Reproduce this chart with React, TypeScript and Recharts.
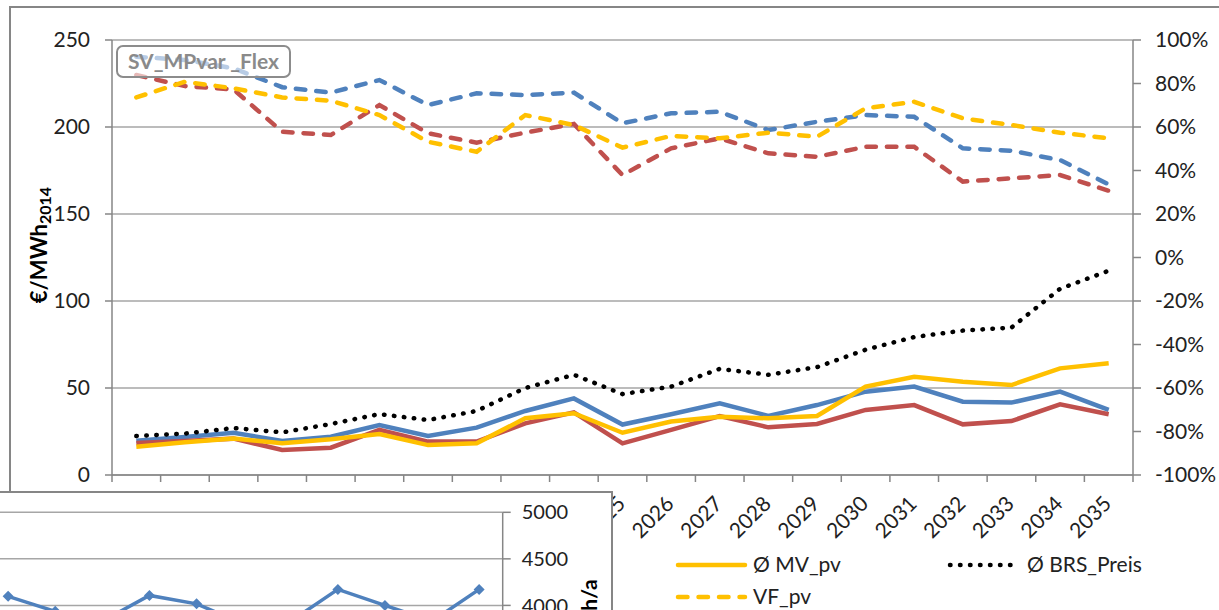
import React from 'react';
import { LineChart, Line, XAxis, YAxis, CartesianGrid } from 'recharts';

// categories
const years = [
  '2015', '2016', '2017', '2018', '2019', '2020', '2021', '2022', '2023', '2024', '2025',
  '2026', '2027', '2028', '2029', '2030', '2031', '2032', '2033', '2034', '2035',
];

// €/MWh (left axis)
const mvBlue = [19.7, 21.8, 24.3, 19.5, 22, 28.7, 22.4, 27.2, 36.8, 44, 29, 34.9, 41.2, 34, 40.2, 47.9, 50.8, 42.1, 41.6, 47.9, 37.4];
const mvRed = [18.4, 19.5, 20.9, 14.4, 15.7, 25.9, 19.2, 19.2, 29.7, 36, 18.2, 25.9, 33.9, 27.4, 29.3, 37.4, 40.2, 29.1, 31, 40.6, 34.9];
const mvPv = [16.3, 18.8, 21, 18.2, 20.5, 23.6, 17.2, 18.2, 32.6, 35.5, 24.3, 30.7, 33.5, 32.6, 33.9, 50.8, 56.5, 53.6, 51.7, 61.3, 64.2];
const brsPreis = [22.4, 23.8, 27, 24.5, 29.3, 35, 31.6, 36.8, 50, 57.6, 46.5, 50.8, 61, 57.6, 62, 72, 79.3, 83, 84.7, 107, 117.4];

// % (right axis)
const vfBlue = [92.3, 90.8, 87, 78.3, 75.8, 81.6, 70.1, 75.5, 74.7, 75.8, 61.7, 66.3, 67, 58.6, 62.4, 65.5, 64.7, 50.2, 49.1, 44.8, 33.6];
const vfRed = [83.9, 78.8, 77.3, 57.8, 56.3, 70.1, 57.1, 52.8, 57.4, 61.4, 37.9, 50.2, 54.8, 47.9, 46.3, 50.9, 50.9, 34.9, 36.4, 37.9, 30.7];
const vfPv = [73.6, 80.8, 77.8, 73.6, 72.1, 65.5, 53.2, 48.6, 65.5, 60.9, 50.5, 55.9, 54.8, 57.4, 55.5, 68.6, 71.6, 64, 60.9, 57.4, 54.8];

// inset: h/a (only the right part is visible)
const vlhPv = [null, null, null, null, null, null, null, null, null, null, 4097, 3936, 3830, 4107, 4017, 3800, 3830, 4172, 4000, 3830, 4172];

const leftTicks = [0, 50, 100, 150, 200, 250];
const rightTicks = [-100, -80, -60, -40, -20, 0, 20, 40, 60, 80, 100];
const insetTicks = [3000, 3500, 4000, 4500, 5000];

const data = years.map((year, i) => ({
  year,
  mvBlue: mvBlue[i],
  mvRed: mvRed[i],
  mvPv: mvPv[i],
  brsPreis: brsPreis[i],
  vfBlue: vfBlue[i],
  vfRed: vfRed[i],
  vfPv: vfPv[i],
}));

const insetData = years.map((year, i) => ({ year, vlhPv: vlhPv[i] }));

const FONT = 'Lato, "Open Sans", sans-serif';
const AXIS = '#868686';
const GRID = '#a6a6a6';
const TEXT = '#222';
const BLUE = '#4f81bd';
const RED = '#c0504d';
const YELLOW = '#ffc000';
const DASH = '9.5 11';
const DOT = '0.5 9.5';

const PLOT_LEFT = 112;
const PLOT_RIGHT = 1133;
const STEP = (PLOT_RIGHT - PLOT_LEFT) / years.length;

const INSET_STEP = 47.1;

const XTick = (props: any) => {
  const { x, y, payload, index } = props;
  const tx = x + 4;
  const ty = y + 23;
  return (
    <g>
      <line x1={x - STEP / 2} x2={x - STEP / 2} y1={y - 7} y2={y} stroke={AXIS} strokeWidth={1.5} />
      {index === years.length - 1 && (
        <line x1={x + STEP / 2} x2={x + STEP / 2} y1={y - 7} y2={y} stroke={AXIS} strokeWidth={1.5} />
      )}
      <text x={tx} y={ty} transform={`rotate(-45, ${tx}, ${ty})`} textAnchor="end" fontSize={21} fill={TEXT} fontFamily={FONT}>
        {payload.value}
      </text>
    </g>
  );
};

const YLabel = () => (
  <text transform="rotate(-90)" x={-245} y={47} textAnchor="middle" fontSize={22} fontWeight="bold" fill="#000" fontFamily={FONT}>
    €/MWh
    <tspan fontSize={16} dy={4}>2014</tspan>
  </text>
);

const InsetLabel = () => (
  <text transform="rotate(-90)" x={-102} y={1135} textAnchor="middle" fontSize={21} fontWeight="bold" fill="#000" fontFamily={FONT}>
    h/a
  </text>
);

const Diamond = (props: any) => {
  const { cx, cy, value } = props;
  if (value == null || cx == null || cy == null) return null;
  return <path d={`M${cx},${cy - 5.5}L${cx + 5.5},${cy}L${cx},${cy + 5.5}L${cx - 5.5},${cy}Z`} fill={BLUE} />;
};

const tickStyle = { fontSize: 21, fill: TEXT, fontFamily: FONT };

export default function App() {
  return (
    <div style={{ position: 'absolute', left: 0, top: 0, width: 1219, height: 610, overflow: 'hidden', background: '#fff', fontFamily: FONT }}>
      {/* chart frame */}
      <div style={{ position: 'absolute', left: 9, top: 6, width: 1400, height: 800, border: `2px solid ${AXIS}` }} />

      <div style={{ position: 'absolute', left: 0, top: 0 }}>
        <LineChart width={1219} height={610} data={data} margin={{ top: 40, right: 0, bottom: 0, left: 0 }}>
          <CartesianGrid yAxisId="left" vertical={false} stroke={GRID} strokeWidth={1.5} />
          <XAxis
            dataKey="year"
            height={135}
            padding={{ left: STEP / 2, right: STEP / 2 }}
            tickSize={7}
            tickMargin={0}
            tickLine={false}
            interval={0}
            axisLine={{ stroke: AXIS, strokeWidth: 1.5 }}
            tick={<XTick />}
          />
          <YAxis
            yAxisId="left"
            width={112}
            domain={[0, 250]}
            ticks={leftTicks}
            tickSize={7}
            tickMargin={15}
            tick={tickStyle}
            axisLine={{ stroke: AXIS, strokeWidth: 1.5 }}
            tickLine={{ stroke: AXIS, strokeWidth: 1.5 }}
            label={<YLabel />}
          />
          <YAxis
            yAxisId="right"
            orientation="right"
            width={86}
            domain={[-100, 100]}
            ticks={rightTicks}
            tickFormatter={(v: number) => `${v}%`}
            tickSize={8}
            tickMargin={14}
            tick={{ ...tickStyle, textAnchor: 'start' }}
            axisLine={{ stroke: AXIS, strokeWidth: 1.5 }}
            tickLine={{ stroke: AXIS, strokeWidth: 1.5 }}
          />
          <Line yAxisId="left" dataKey="mvBlue" stroke={BLUE} strokeWidth={4.5} dot={false} isAnimationActive={false} />
          <Line yAxisId="left" dataKey="mvRed" stroke={RED} strokeWidth={4.5} dot={false} isAnimationActive={false} />
          <Line yAxisId="left" dataKey="mvPv" name="Ø MV_pv" stroke={YELLOW} strokeWidth={4.5} dot={false} isAnimationActive={false} />
          <Line yAxisId="left" dataKey="brsPreis" name="Ø BRS_Preis" stroke="#000" strokeWidth={4.5} strokeDasharray={DOT} strokeLinecap="round" dot={false} isAnimationActive={false} />
          <Line yAxisId="right" dataKey="vfBlue" stroke={BLUE} strokeWidth={4.5} strokeDasharray={DASH} strokeLinecap="round" dot={false} isAnimationActive={false} />
          <Line yAxisId="right" dataKey="vfRed" stroke={RED} strokeWidth={4.5} strokeDasharray={DASH} strokeLinecap="round" dot={false} isAnimationActive={false} />
          <Line yAxisId="right" dataKey="vfPv" name="VF_pv" stroke={YELLOW} strokeWidth={4.5} strokeDasharray={DASH} strokeLinecap="round" dot={false} isAnimationActive={false} />
        </LineChart>
      </div>

      {/* scenario label + legend */}
      <svg width={1219} height={610} style={{ position: 'absolute', left: 0, top: 0, pointerEvents: 'none' }}>
        <rect x={117} y={46} width={173} height={31} rx={6} fill="#fff" fillOpacity={0.6} stroke="#8c8c8c" strokeWidth={2} />
        <text x={203.5} y={69} textAnchor="middle" fontSize={21} fontWeight="bold" fill="#8a8a8a" fontFamily={FONT}>
          SV_MPvar _Flex
        </text>

        <line x1={678} x2={745} y1={565} y2={565} stroke={YELLOW} strokeWidth={4.5} strokeLinecap="round" />
        <text x={753} y={572} fontSize={21} fill={TEXT} fontFamily={FONT}>Ø MV_pv</text>
        <line x1={950} x2={1015} y1={565} y2={565} stroke="#000" strokeWidth={4.5} strokeDasharray={DOT} strokeLinecap="round" />
        <text x={1027} y={572} fontSize={21} fill={TEXT} fontFamily={FONT}>Ø BRS_Preis</text>
        <line x1={678} x2={745} y1={597} y2={597} stroke={YELLOW} strokeWidth={4.5} strokeDasharray={DASH} strokeLinecap="round" />
        <text x={753} y={604} fontSize={21} fill={TEXT} fontFamily={FONT}>VF_pv</text>
      </svg>

      {/* inset chart (full-load hours) */}
      <div style={{ position: 'absolute', left: -540, top: 491, width: 1149, height: 220, border: `2px solid ${AXIS}`, background: '#fff' }}>
        <LineChart width={1149} height={220} data={insetData} margin={{ top: 19.3, right: 0, bottom: 14.5, left: 51.6 }}>
          <CartesianGrid yAxisId="h" vertical={false} stroke={GRID} strokeWidth={1.5} />
          <XAxis dataKey="year" hide padding={{ left: INSET_STEP / 2, right: INSET_STEP / 2 }} />
          <YAxis
            yAxisId="h"
            orientation="right"
            width={108.3}
            domain={[3000, 5000]}
            ticks={insetTicks}
            tickSize={8}
            tickMargin={11}
            tick={{ ...tickStyle, fontSize: 20, textAnchor: 'start' }}
            axisLine={{ stroke: AXIS, strokeWidth: 1.5 }}
            tickLine={{ stroke: AXIS, strokeWidth: 1.5 }}
            label={<InsetLabel />}
          />
          <Line yAxisId="h" dataKey="vlhPv" stroke={BLUE} strokeWidth={3.5} dot={<Diamond />} isAnimationActive={false} />
        </LineChart>
      </div>
    </div>
  );
}
